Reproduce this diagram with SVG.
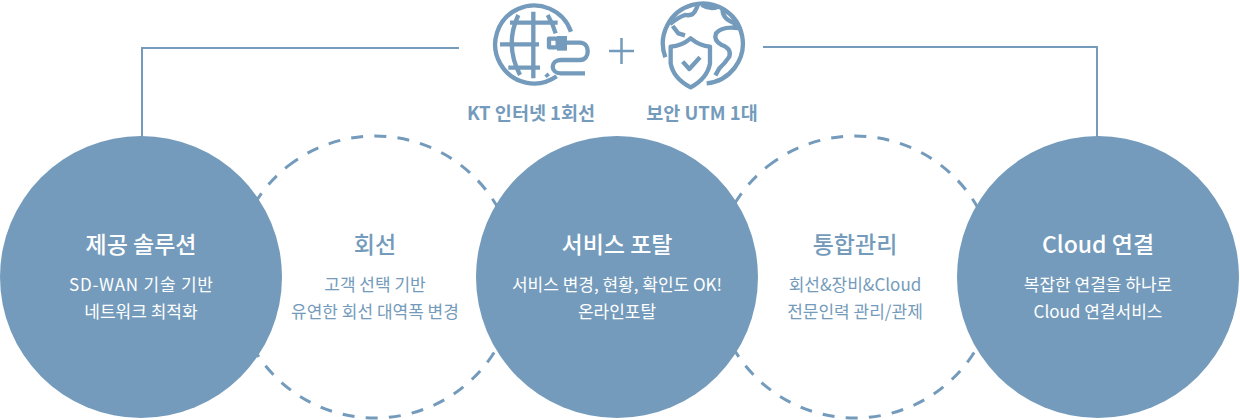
<svg xmlns="http://www.w3.org/2000/svg" width="1240" height="420" viewBox="0 0 1240 420">
<style>
text{font-family:"Noto Sans CJK KR","Noto Sans",sans-serif;text-anchor:middle}
.fill{fill:#749bbb}
.dash{fill:none;stroke:#749bbb;stroke-width:3;stroke-dasharray:12 11.2}
.line{fill:none;stroke:#749bbb;stroke-width:2}
.ico{fill:none;stroke:#749bbb;stroke-width:13;stroke-linejoin:round}
.t{font-size:23px;font-weight:500}
.s{font-size:17px;font-weight:400}
.w{fill:#fff}
.b{fill:#749bbb}
.k{font-size:18.500px;font-weight:700;fill:#749bbb}
</style>
<g id="connectors">
<path class="line" d="M459 48H142V137"/>
<path class="line" d="M763 47H1097V137"/>
</g>
<g id="node-line">
<circle class="dash" cx="375" cy="277" r="141" transform="rotate(-128 375 277)"/>
<text class="t b" x="375" y="253">회선</text>
<text class="s b" x="375" y="291">고객 선택 기반</text>
<text class="s b" x="375" y="318">유연한 회선 대역폭 변경</text>
</g>
<g id="node-manage">
<circle class="dash" cx="855" cy="277" r="141" transform="rotate(-128 855 277)"/>
<text class="t b" x="855" y="253">통합관리</text>
<text class="s b" x="855" y="291">회선&amp;장비&amp;Cloud</text>
<text class="s b" x="855" y="318">전문인력 관리/관제</text>
</g>
<g id="node-solution">
<circle class="fill" cx="141" cy="277" r="141"/>
<text class="t w" x="141" y="253">제공 솔루션</text>
<text class="s w" x="141" y="291" textLength="144">SD-WAN 기술 기반</text>
<text class="s w" x="141" y="318">네트워크 최적화</text>
</g>
<g id="node-portal">
<circle class="fill" cx="617" cy="277" r="141"/>
<text class="t w" x="617" y="253">서비스 포탈</text>
<text class="s w" x="617" y="291">서비스 변경, 현황, 확인도 OK!</text>
<text class="s w" x="617" y="318">온라인포탈</text>
</g>
<g id="node-cloud">
<circle class="fill" cx="1098" cy="277" r="141"/>
<text class="t w" x="1098" y="253">Cloud 연결</text>
<text class="s w" x="1098" y="291">복잡한 연결을 하나로</text>
<text class="s w" x="1098" y="318">Cloud 연결서비스</text>
</g>
<g id="node-internet">
<g transform="translate(485 0) scale(.3333)">
<path class="ico" d="M258 95A117 117 0 1 0 215 229M100 45Q58 135 105 225M188 45Q203 70 212 100M145 35V235M75 68H218M45 133H162M70 203H165M183 222L190 230"/>
<path class="ico" d="M192 116H218V142H192ZM245 128H285C316 128 316 180 285 180H228C195 180 195 220 228 220H300"/>
<path d="M216 108H246V152H216Z" fill="#749bbb"/>
</g>
<text class="k" x="531" y="120">KT 인터넷 1회선</text>
</g>
<g id="plus">
<path d="M609 51H634M621.500 38V64" fill="none" stroke="#749bbb" stroke-width="2.500"/>
</g>
<g id="node-security">
<g transform="translate(650 0) scale(.3333)">
<path class="ico" d="M46 172A120 120 0 1 1 170 250"/>
<path class="ico" d="M60 72Q85 52 105 45Q130 50 138 28L145 12M155 15Q180 30 205 20M218 25Q215 55 250 68L264 84Q215 78 198 100Q190 122 215 135Q245 145 238 170Q225 190 208 205L196 226M68 78L85 100L105 106"/>
<path class="ico" d="M122 115Q95 138 62 140V190Q70 235 122 262Q172 235 180 190V140Q150 138 122 115Z"/>
<path class="ico" d="M98 185L118 207L150 172"/>
</g>
<text class="k" x="702" y="120">보안 UTM 1대</text>
</g>
</svg>
